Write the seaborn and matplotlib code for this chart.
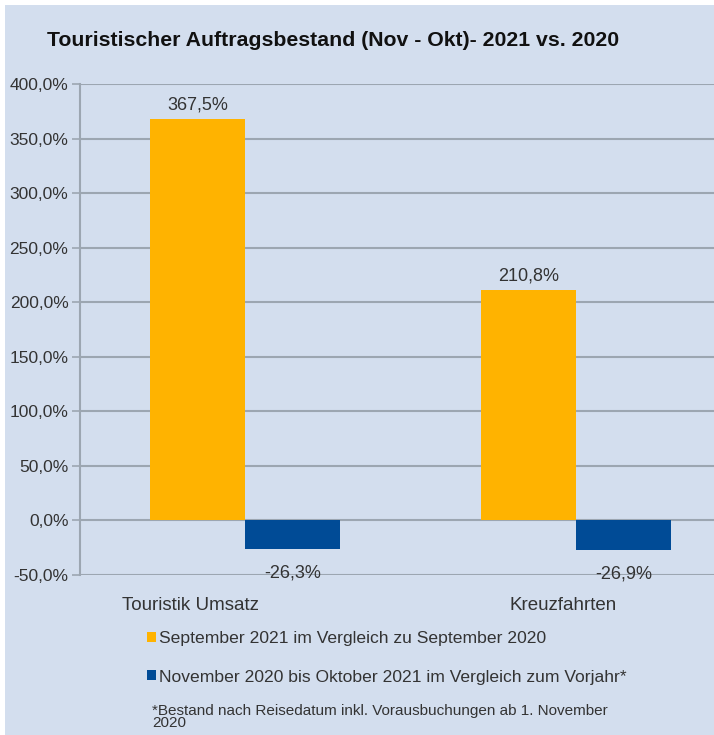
import matplotlib
matplotlib.use("Agg")
import matplotlib.pyplot as plt
import seaborn as sns
import pandas as pd
from matplotlib.patches import Rectangle
from matplotlib.transforms import blended_transform_factory

categories = ["Touristik Umsatz", "Kreuzfahrten"]
series = ["September 2021 im Vergleich zu September 2020",
          "November 2020 bis Oktober 2021 im Vergleich zum Vorjahr*"]
sep_values = [367.5, 210.8]
nov_values = [-26.3, -26.9]
yticks = [-50, 0, 50, 100, 150, 200, 250, 300, 350, 400]
title = "Touristischer Auftragsbestand (Nov - Okt)- 2021 vs. 2020"
footnote = "*Bestand nach Reisedatum inkl. Vorausbuchungen ab 1. November\n2020"

colors = ["#FFB300", "#004B96"]
bg = "#D3DEEE"
grid = "#9CA6B1"
txt = "#333333"

df = pd.DataFrame({
    "Kategorie": categories * 2,
    "Serie": [series[0]] * 2 + [series[1]] * 2,
    "Wert": sep_values + nov_values,
})

sns.set_theme(style="white")
plt.rcParams["font.family"] = ["Liberation Sans", "DejaVu Sans"]

fig = plt.figure(figsize=(7.14, 7.35), dpi=100)
fig.patch.set_facecolor("white")
fig.add_artist(Rectangle((5 / 714, 0), 1, 1 - 5 / 735, transform=fig.transFigure,
                         facecolor=bg, edgecolor="none", zorder=-10))

ax = fig.add_axes([79.5 / 714, 160 / 735, 662 / 714, 491 / 735])
ax.set_facecolor("none")
sns.barplot(data=df, x="Kategorie", y="Wert", hue="Serie", palette=colors,
            width=0.574, gap=0, dodge=True, ax=ax, legend=True, zorder=3,
            saturation=1, linewidth=0)
ax.set_xlim(-0.5, 1.5)
ax.set_ylim(-50, 400)
ax.set_yticks(yticks)
ax.set_yticklabels([f"{v:.1f}%".replace(".", ",") for v in yticks],
                   fontsize=12.5, color=txt)
ax.tick_params(axis="y", length=6, width=1.2, color=grid, pad=2, left=True)
ax.tick_params(axis="x", length=0, labelbottom=False)
ax.set_xlabel("")
ax.set_ylabel("")
for y in yticks:
    ax.axhline(y, color=grid, lw=1.5, zorder=1)
for s in ["top", "right", "bottom"]:
    ax.spines[s].set_visible(False)
ax.spines["left"].set_color(grid)
ax.spines["left"].set_linewidth(1.5)

for cont, vals, pad in zip(ax.containers, [sep_values, nov_values], [4, 11]):
    labels = [f"{v:.1f}%".replace(".", ",") for v in vals]
    ax.bar_label(cont, labels=labels, padding=pad, fontsize=13, color=txt)

trans = blended_transform_factory(ax.transData, fig.transFigure)
offsets = [-0.166, -0.04]
for i, c in enumerate(categories):
    ax.text(i + offsets[i], 1 - 606 / 735, c, transform=trans, ha="center",
            va="center", fontsize=13.5, color=txt)

handles, labs = ax.get_legend_handles_labels()
ax.get_legend().remove()
fig.legend(handles, labs, loc="upper left", bbox_to_anchor=(140 / 714, 1 - 624 / 735),
           frameon=False, fontsize=12.6, handlelength=0.5, handleheight=0.5,
           handletextpad=0.2, labelspacing=1.35, labelcolor=txt, borderaxespad=0)

fig.text(152 / 714, 1 - 704 / 735, footnote, fontsize=11, color=txt,
         va="top", ha="left", linespacing=0.85)

fig.text(47 / 714, 1 - 40 / 735, title, fontsize=15.3, fontweight="bold",
         color="#111111", va="center", ha="left")

fig.savefig("out.png", dpi=100)
